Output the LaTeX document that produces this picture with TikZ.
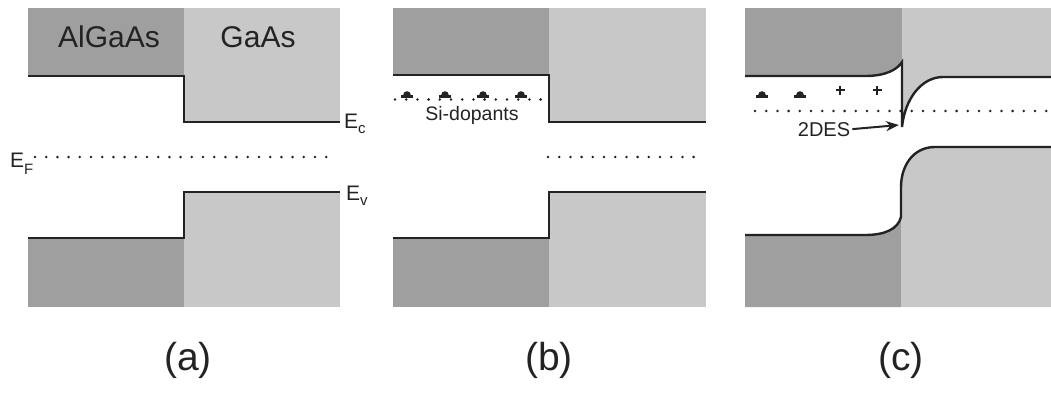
\documentclass[tikz,border=0pt]{standalone}
\usepackage{fontspec}
\setmainfont{Liberation Sans}
\usetikzlibrary{arrows.meta}
\definecolor{dk}{RGB}{158,159,158}
\definecolor{lt}{RGB}{199,200,199}
\definecolor{ln}{RGB}{35,35,35}
\newcommand{\fs}[1]{\fontsize{#1}{#1}\selectfont}
\begin{document}
\begin{tikzpicture}[x=1pt,y=-1pt,
  band/.style={draw=ln,line width=2.4pt,line join=miter},
  fermi/.style={draw=ln,line width=2.8pt,line cap=round,dash pattern=on 0pt off 11.2pt},
  lbl/.style={inner sep=0pt,anchor=base,text=ln},
  plab/.style={lbl,font=\fs{39}},
  mat/.style={lbl,font=\fs{30}},
  elab/.style={inner sep=0pt,anchor=base west,text=ln,font=\fs{21}},
  dop/.style={fill=ln},
  plus/.style={draw=ln,line width=1.7pt}]
\useasboundingbox (0,0) rectangle (1051,397);
% ---------- panel (a)
\fill[dk] (28,8) rectangle (184,76);
\fill[lt] (184,8) rectangle (340,122);
\fill[dk] (28,238) rectangle (184,307);
\fill[lt] (184,192) rectangle (340,307);
\draw[band] (28,76) -- (184,76) -- (184,122) -- (340,122);
\draw[band] (28,238) -- (184,238) -- (184,192) -- (340,192);
\draw[fermi] (35,157) -- (333,157);
\node[mat] (alg) at (109,47) {AlGaAs};
\node[mat] (gaas) at (258,47) {GaAs};
\node[elab] (ec) at (344,128) {E\raisebox{-5pt}{\fs{15}c}};
\node[elab] (ev) at (346,200) {E\raisebox{-5pt}{\fs{15}v}};
\node[elab] (ef) at (10,167) {E\raisebox{-7pt}{\fs{15}F}};
% ---------- panel (b)
\fill[dk] (393,8) rectangle (549,75);
\fill[lt] (549,8) rectangle (706,122);
\fill[dk] (393,238) rectangle (549,307);
\fill[lt] (549,192) rectangle (706,307);
\draw[band] (393,75) -- (549,75) -- (549,122) -- (706,122);
\draw[band] (393,238) -- (549,238) -- (549,192) -- (706,192);
\draw[fermi] (395,99.5) -- (545,99.5);
\draw[fermi] (548,157) -- (698,157);
\foreach \x in {407,445,483,521}{
  \fill[dop] (\x-6,97.5) rectangle (\x+6,95);
  \fill[dop] (\x-3.8,95) arc[start angle=180,end angle=360,radius=3.8] -- cycle;
}
\node[lbl,font=\fs{19.5}] (sid) at (472,120) {Si-dopants};
% ---------- panel (c)
\fill[dk] (745,8) -- (902,8) -- (902,62) .. controls (897,70) and (885,76) .. (865,76) -- (745,76) -- cycle;
\fill[lt] (902,8) -- (1051,8) -- (1051,77) -- (943,77) .. controls (922,77) and (905,98) .. (902,127) -- cycle;
\draw[band] (745,76) -- (865,76) .. controls (885,76) and (897,70) .. (902,62) -- (902,127) .. controls (905,98) and (922,77) .. (943,77) -- (1051,77);
\fill[dk] (745,307) -- (745,235) -- (865,235) .. controls (885,235) and (898,229) .. (901,217) -- (901,307) -- cycle;
\fill[lt] (901,307) -- (901,187) .. controls (901,166) and (913,147) .. (935,147) -- (1051,147) -- (1051,307) -- cycle;
\draw[band] (745,235) -- (865,235) .. controls (885,235) and (898,229) .. (901,217) -- (901,187) .. controls (901,166) and (913,147) .. (935,147) -- (1051,147);
\draw[fermi] (755,111) -- (1051,111);
\foreach \x in {762,800}{
  \fill[dop] (\x-6,97.5) rectangle (\x+6,95);
  \fill[dop] (\x-3.8,95) arc[start angle=180,end angle=360,radius=3.8] -- cycle;
}
\foreach \x in {840,877}{
  \draw[plus] (\x-4.5,90) -- (\x+4.5,90) (\x,85.5) -- (\x,94.5);
}
\node[lbl,font=\fs{20}] (des) at (824,136) {2DES};
\coordinate (tip) at (899,125);
\draw[draw=ln,line width=2pt,-{Stealth[length=13pt,width=10pt]}] (des.east) ++(2pt,0) coordinate (dstart) (dstart) -- (tip);
% ---------- panel labels
\node[plab] (pa) at (188,370) {(a)};
\node[plab] (pb) at (549,370) {(b)};
\node[plab] (pc) at (901,370) {(c)};
\end{tikzpicture}
\end{document}
